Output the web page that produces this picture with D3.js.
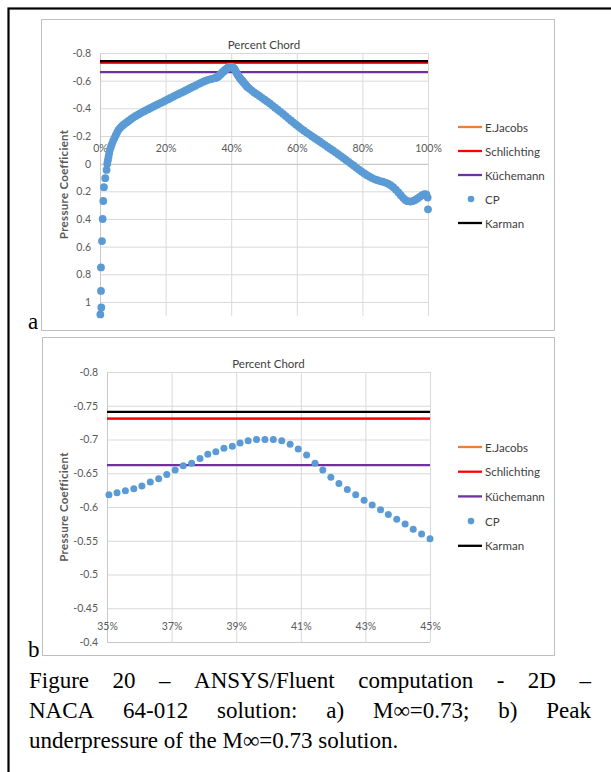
<!DOCTYPE html>
<html>
<head>
<meta charset="utf-8">
<script src="https://cdn.jsdelivr.net/npm/d3@7"></script>
<style>
	body { margin: 0; background: #fff; }
	svg text { font-family: Lato, "Open Sans", sans-serif; }
</style>
</head>
<body>
<svg id="fig" width="611" height="772"></svg>
<script>
(function (d3) {
	"use strict";

	/***** Data *****/

	// Reference lines (Cp) and their legend order
	var legendNames = ["E.Jacobs", "Schlichting", "Küchemann", "CP", "Karman"];
	var refNames = ["E.Jacobs", "Schlichting", "Küchemann", "Karman"];
	var refCp = [-0.731, -0.731, -0.662, -0.741];

	// Peak region, 35% - 45% chord (panel b)
	var peakX = [35.06, 35.31, 35.57, 35.83, 36.08, 36.34, 36.60, 36.85, 37.11, 37.36,
		37.62, 37.88, 38.12, 38.37, 38.62, 38.88, 39.12, 39.37, 39.63, 39.89,
		40.15, 40.41, 40.67, 40.92, 41.18, 41.44, 41.68, 41.93, 42.18, 42.44,
		42.70, 42.96, 43.21, 43.47, 43.71, 43.97, 44.23, 44.48, 44.74, 45.00];
	var peakCp = [-0.618, -0.621, -0.624, -0.627, -0.631, -0.637, -0.642, -0.648, -0.655, -0.661,
		-0.665, -0.672, -0.678, -0.682, -0.687, -0.690, -0.695, -0.698, -0.700, -0.700,
		-0.700, -0.698, -0.693, -0.686, -0.677, -0.665, -0.655, -0.644, -0.635, -0.626,
		-0.618, -0.610, -0.603, -0.596, -0.589, -0.582, -0.575, -0.567, -0.560, -0.553];

	// Leading edge to 35% chord
	var frontX = [0.1, 0.4, 0.3, 0.3, 0.6, 0.8, 1.0, 1.2, 1.6, 2.0,
		2.2, 2.4, 2.6, 2.8, 3.0, 3.3, 3.6, 4.0, 4.4, 4.8,
		5.2, 5.6, 6.1, 6.6, 7.1, 7.6, 8.2, 8.8, 9.5, 10.2,
		10.9, 11.7, 12.4, 13.2, 13.9, 14.7, 15.4, 16.2, 16.9, 17.7,
		18.5, 19.3, 20.0, 20.8, 21.5, 22.3, 23.0, 23.8, 24.6, 25.4,
		26.1, 26.9, 27.6, 28.4, 29.2, 30.0, 30.7, 31.5, 32.2, 33.0,
		33.7, 34.4];
	var frontCp = [1.09, 1.04, 0.92, 0.75, 0.56, 0.40, 0.27, 0.17, 0.105, 0.045,
		0.0, -0.025, -0.05, -0.075, -0.10, -0.12, -0.14, -0.165, -0.185, -0.205,
		-0.225, -0.243, -0.257, -0.27, -0.28, -0.29, -0.30, -0.31, -0.323, -0.335,
		-0.345, -0.356, -0.366, -0.376, -0.385, -0.394, -0.403, -0.412, -0.421, -0.43,
		-0.439, -0.448, -0.457, -0.466, -0.475, -0.484, -0.493, -0.502, -0.511, -0.52,
		-0.529, -0.538, -0.547, -0.556, -0.565, -0.575, -0.584, -0.593, -0.600, -0.606,
		-0.611, -0.615];

	// 45% chord to trailing edge
	var rearX = [45.6, 46.3, 47.0, 47.8, 48.6, 49.4, 50.2, 51.0, 51.8, 52.6,
		53.4, 54.2, 55.0, 55.8, 56.6, 57.4, 58.2, 59.0, 59.8, 60.6,
		61.4, 62.2, 63.0, 63.8, 64.6, 65.4, 66.2, 67.0, 67.8, 68.6,
		69.4, 70.2, 71.0, 71.8, 72.6, 73.4, 74.2, 75.0, 75.8, 76.6,
		77.4, 78.2, 79.0, 79.8, 80.6, 81.4, 82.2, 83.0, 83.8, 84.6,
		85.4, 86.2, 87.0, 87.8, 88.6, 89.4, 90.2, 91.0, 91.7, 92.4,
		93.1, 93.8, 94.6, 95.4, 96.1, 96.8, 97.5, 98.2, 98.9, 99.5,
		99.9, 100.0];
	var rearCp = [-0.542, -0.528, -0.515, -0.502, -0.489, -0.476, -0.462, -0.449, -0.435, -0.420,
		-0.405, -0.390, -0.375, -0.360, -0.344, -0.328, -0.312, -0.297, -0.282, -0.267,
		-0.252, -0.238, -0.225, -0.212, -0.199, -0.186, -0.173, -0.160, -0.147, -0.134,
		-0.121, -0.108, -0.095, -0.082, -0.068, -0.055, -0.041, -0.027, -0.013, 0.001,
		0.015, 0.030, 0.044, 0.058, 0.071, 0.083, 0.094, 0.104, 0.113, 0.120,
		0.126, 0.131, 0.137, 0.145, 0.156, 0.170, 0.188, 0.208, 0.228, 0.247,
		0.262, 0.271, 0.274, 0.270, 0.262, 0.252, 0.240, 0.228, 0.220, 0.222,
		0.245, 0.330];

	// Axis ticks
	var xTicksA = [0, 20, 40, 60, 80, 100];
	var yTicksA = [-0.8, -0.6, -0.4, -0.2, 0, 0.2, 0.4, 0.6, 0.8, 1];
	var xTicksB = [35, 37, 39, 41, 43, 45];
	var yTicksB = [-0.8, -0.75, -0.7, -0.65, -0.6, -0.55, -0.5, -0.45, -0.4];

	// Caption
	var captionLine1 = ["Figure", "20", "–", "ANSYS/Fluent", "computation", "-", "2D", "–"];
	var captionLine2 = ["NACA", "64-012", "solution:", "a)", "M∞=0.73;", "b)", "Peak"];
	var captionLine3 = "underpressure of the M∞=0.73 solution.";

	/***** Styles *****/
	var colors = {
		"E.Jacobs": "#ED7D31",
		"Schlichting": "#FF0000",
		"Küchemann": "#7030A0",
		"CP": "#5B9BD5",
		"Karman": "#000000"
	};
	var gridColor = "#d9d9d9";
	var labelColor = "#595959";
	var serif = "'Liberation Serif', 'Times New Roman', serif";

	var svg = d3.select("#fig");

	// Outer figure frame
	svg.append("rect")
		.attr("x", 8.5).attr("y", 8.5)
		.attr("width", 640).attr("height", 800)
		.attr("fill", "none")
		.attr("stroke", "#000")
		.attr("stroke-width", 2.2);

	/***** Panels *****/
	var cpAx = frontX.concat(peakX, rearX);
	var cpAy = frontCp.concat(peakCp, rearCp);

	drawPanel({
		frame: [41.5, 19.5, 513, 311],
		xDomain: [0, 100], xRange: [100, 428],
		yDomain: [-0.8, 1.1], yRange: [53, 315.8],
		xTicks: xTicksA, yTicks: yTicksA, cross: 0,
		yFmt: function (d) { return String(+d.toFixed(1)); },
		titleY: 44, legendY: 127, legendStep: 24,
		xs: cpAx, cps: cpAy, r: 3.9, letter: "a", letterY: 329
	});

	drawPanel({
		frame: [42.5, 337.5, 512, 318],
		xDomain: [35, 45], xRange: [107, 430],
		yDomain: [-0.8, -0.4], yRange: [372, 642],
		xTicks: xTicksB, yTicks: yTicksB, cross: -0.4,
		yFmt: function (d) { return String(+d.toFixed(2)); },
		titleY: 363, legendY: 447, legendStep: 24.7,
		xs: peakX, cps: peakCp, r: 3.5, letter: "b", letterY: 657
	});

	drawCaption();

	function drawPanel(cfg) {
		var g = svg.append("g");

		// Chart area frame
		g.append("rect")
			.attr("x", cfg.frame[0]).attr("y", cfg.frame[1])
			.attr("width", cfg.frame[2]).attr("height", cfg.frame[3])
			.attr("fill", "#fff")
			.attr("stroke", "#bfbfbf");

		var x = d3.scaleLinear().domain(cfg.xDomain).range(cfg.xRange);
		var y = d3.scaleLinear().domain(cfg.yDomain).range(cfg.yRange);
		var x0 = cfg.xRange[0], x1 = cfg.xRange[1];
		var y0 = cfg.yRange[0], y1 = cfg.yRange[1];

		// Gridlines
		g.append("g")
			.attr("transform", "translate(0," + y1 + ")")
			.call(d3.axisBottom(x).tickValues(cfg.xTicks).tickSize(-(y1 - y0)).tickFormat(""))
			.call(function (s) { s.select(".domain").remove(); })
			.selectAll("line").attr("stroke", gridColor);
		g.append("g")
			.attr("transform", "translate(" + x0 + ",0)")
			.call(d3.axisLeft(y).tickValues(cfg.yTicks).tickSize(-(x1 - x0)).tickFormat(""))
			.call(function (s) { s.select(".domain").remove(); })
			.selectAll("line").attr("stroke", gridColor);

		// Axis lines
		g.append("line")
			.attr("x1", x0).attr("x2", x1)
			.attr("y1", Math.round(y(cfg.cross)) + 0.5).attr("y2", Math.round(y(cfg.cross)) + 0.5)
			.attr("stroke", "#c8c8c8");
		g.append("line")
			.attr("x1", x0 + 0.5).attr("x2", x0 + 0.5)
			.attr("y1", y0).attr("y2", y1)
			.attr("stroke", "#c8c8c8");

		// Y tick labels
		var yAx = g.append("g")
			.attr("transform", "translate(" + x0 + ",0)")
			.call(d3.axisLeft(y).tickValues(cfg.yTicks).tickSize(0).tickPadding(9).tickFormat(cfg.yFmt));
		yAx.select(".domain").remove();
		yAx.selectAll("text").attr("fill", labelColor).style("font-size", "10.5px");

		// X tick labels sit above the axis line
		var xAx = g.append("g")
			.attr("transform", "translate(0," + y(cfg.cross) + ")")
			.call(d3.axisTop(x).tickValues(cfg.xTicks).tickSize(0).tickPadding(12)
				.tickFormat(function (d) { return d + "%"; }));
		xAx.select(".domain").remove();
		xAx.selectAll("text").attr("fill", labelColor).style("font-size", "10.5px");

		// Titles
		g.append("text")
			.attr("x", (x0 + x1) / 2).attr("y", cfg.titleY)
			.attr("text-anchor", "middle").attr("dominant-baseline", "central")
			.attr("fill", "#404040").style("font-size", "11.5px")
			.text("Percent Chord");
		g.append("text")
			.attr("transform", "translate(63," + ((y0 + y1) / 2) + ") rotate(-90)")
			.attr("text-anchor", "middle").attr("dominant-baseline", "central")
			.attr("fill", labelColor).style("font-size", "11.5px").style("font-weight", "bold")
			.style("letter-spacing", "0.3px")
			.text("Pressure Coefficient");

		// Series in legend order
		function refLine(name) {
			var v = refCp[refNames.indexOf(name)];
			g.append("line")
				.attr("x1", x0).attr("x2", x1)
				.attr("y1", y(v)).attr("y2", y(v))
				.attr("stroke", colors[name]).attr("stroke-width", 2.3);
		}
		refLine("E.Jacobs");
		refLine("Schlichting");
		refLine("Küchemann");
		g.append("g").selectAll("circle")
			.data(cfg.xs)
			.join("circle")
			.attr("cx", function (d) { return x(d); })
			.attr("cy", function (d, i) { return y(cfg.cps[i]); })
			.attr("r", cfg.r)
			.attr("fill", colors.CP);
		refLine("Karman");

		// Legend
		var leg = g.append("g").selectAll("g")
			.data(legendNames)
			.join("g")
			.attr("transform", function (d, i) { return "translate(0," + (cfg.legendY + i * cfg.legendStep) + ")"; });
		leg.filter(function (d) { return d !== "CP"; })
			.append("line")
			.attr("x1", 458).attr("x2", 482)
			.attr("stroke", function (d) { return colors[d]; })
			.attr("stroke-width", 2.3);
		leg.filter(function (d) { return d === "CP"; })
			.append("circle")
			.attr("cx", 471).attr("r", 3.3)
			.attr("fill", colors.CP);
		leg.append("text")
			.attr("x", 485).attr("dominant-baseline", "central")
			.attr("fill", "#404040").style("font-size", "11.5px")
			.text(function (d) { return d; });

		// Panel letter
		svg.append("text")
			.attr("x", 28).attr("y", cfg.letterY)
			.style("font-family", serif)
			.style("font-size", "23px")
			.text(cfg.letter);
	}

	function drawCaption() {
		var left = 29, right = 591;

		function justify(words, yPos) {
			var t = svg.append("g").selectAll("text")
				.data(words)
				.join("text")
				.attr("y", yPos)
				.style("font-family", serif).style("font-size", "23px")
				.text(function (d) { return d; });
			var widths = [];
			t.each(function () { widths.push(this.getComputedTextLength()); });
			var gap = (right - left - d3.sum(widths)) / (words.length - 1);
			var pos = left;
			t.attr("x", function (d, i) {
				var p = pos;
				pos += widths[i] + gap;
				return p;
			});
		}
		justify(captionLine1, 688);
		justify(captionLine2, 718);
		svg.append("text")
			.attr("x", left).attr("y", 748)
			.style("font-family", serif).style("font-size", "23px")
			.text(captionLine3);
	}

})(d3);
</script>
</body>
</html>
